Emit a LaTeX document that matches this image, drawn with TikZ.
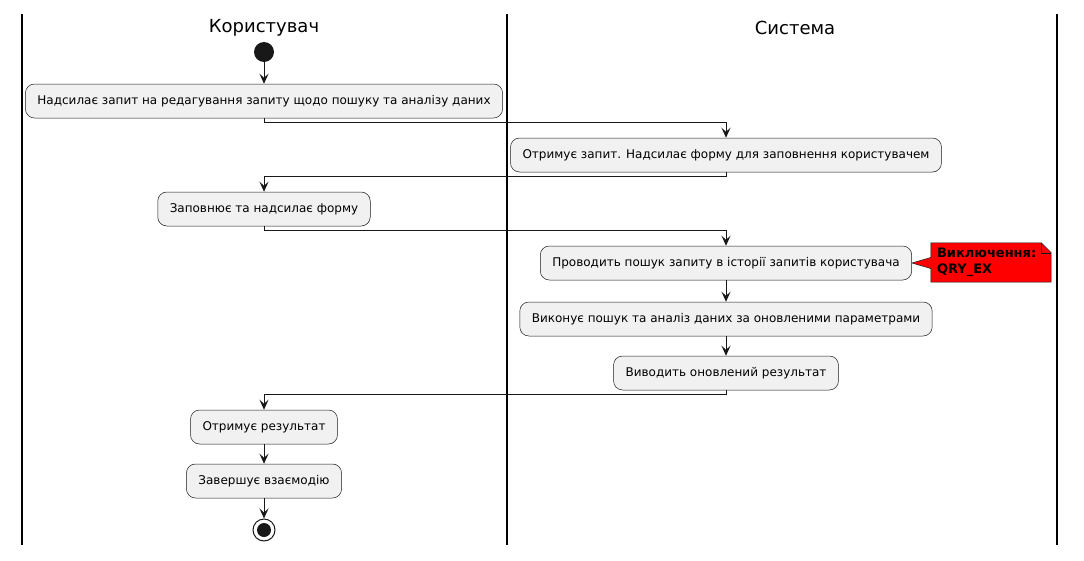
\documentclass[tikz,border=0pt]{standalone}
\usepackage{fontspec}
\setmainfont{DejaVu Sans}
\usetikzlibrary{arrows.meta, positioning}

\definecolor{actfill}{HTML}{F1F1F1}
\definecolor{lineclr}{HTML}{181818}
\pgfdeclarelayer{bg}
\pgfsetlayers{bg,main}

\begin{document}
\begin{tikzpicture}[
    x=1pt, y=-1pt,
    every node/.style={font=\fontsize{12}{14}\selectfont},
    act/.style={draw=lineclr, fill=actfill, rounded corners=9pt, line width=0.5pt, minimum height=34pt, inner xsep=12pt},
    lane/.style={font=\fontsize{18}{21}\selectfont},
    flow/.style={draw=lineclr, line width=1pt, -{Stealth[length=10pt, width=9pt, inset=4pt]}},
    notebox/.style={font=\bfseries\fontsize{13}{16}\selectfont, text width=108pt, inner xsep=6pt, inner ysep=3pt, minimum height=39pt, align=left}
]
\useasboundingbox (0,0) rectangle (1084,560);

% swimlanes
\foreach \x in {22,507,1057} \draw[line width=1.5pt] (\x,14) -- (\x,545);
\node[lane] (usr) at (264,28) {Користувач};
\node[lane] (sys) at (795,28) {Система};

\node[circle, fill=lineclr, minimum size=20pt, inner sep=0pt] (start) at (264,52) {};
\node[act] (a1) at (264,101) {Надсилає запит на редагування запиту щодо пошуку та аналізу даних};
\node[act] (a2) at (726,155) {Отримує запит. Надсилає форму для заповнення користувачем};
\node[act] (a3) at (264,209) {Заповнює та надсилає форму};
\node[act] (a4) at (726,263) {Проводить пошук запиту в історії запитів користувача};
\node[act] (a5) at (726,319) {Виконує пошук та аналіз даних за оновленими параметрами};
\node[act] (a6) at (726,373) {Виводить оновлений результат};
\node[act] (a7) at (264,427) {Отримує результат};
\node[act] (a8) at (264,481) {Завершує взаємодію};
\node[circle, draw=lineclr, line width=1pt, minimum size=22pt, inner sep=0pt] (stop) at (264,530) {};
\node[circle, fill=lineclr, minimum size=14pt, inner sep=0pt] (stopdot) at (stop) {};

% note
\node[notebox] (qry) at (991,262.5) {Виключення:\\QRY\_EX};
\begin{pgfonlayer}{bg}
\draw[draw=lineclr, fill=red, line width=0.5pt] (qry.north west) -- ([xshift=-10pt]qry.north east)
    -- ([yshift=-10pt]qry.north east) -- (qry.south east) -- (qry.south west)
    -- ([yshift=-6pt]qry.west) -- (a4.east) -- ([yshift=5pt]qry.west) -- cycle;
\draw[draw=lineclr, line width=0.5pt] ([xshift=-10pt]qry.north east) -- ++(0,10) -- ([yshift=-10pt]qry.north east);
\end{pgfonlayer}

% flow
\draw[flow] (start) -- (a1);
\draw[flow] (a1.south) -- ++(0,4) -| (a2.north);
\draw[flow] (a2.south) -- ++(0,4) -| (a3.north);
\draw[flow] (a3.south) -- ++(0,4) -| (a4.north);
\draw[flow] (a4) -- (a5);
\draw[flow] (a5) -- (a6);
\draw[flow] (a6.south) -- ++(0,4) -| (a7.north);
\draw[flow] (a7) -- (a8);
\draw[flow] (a8) -- (stop);
\end{tikzpicture}
\end{document}
